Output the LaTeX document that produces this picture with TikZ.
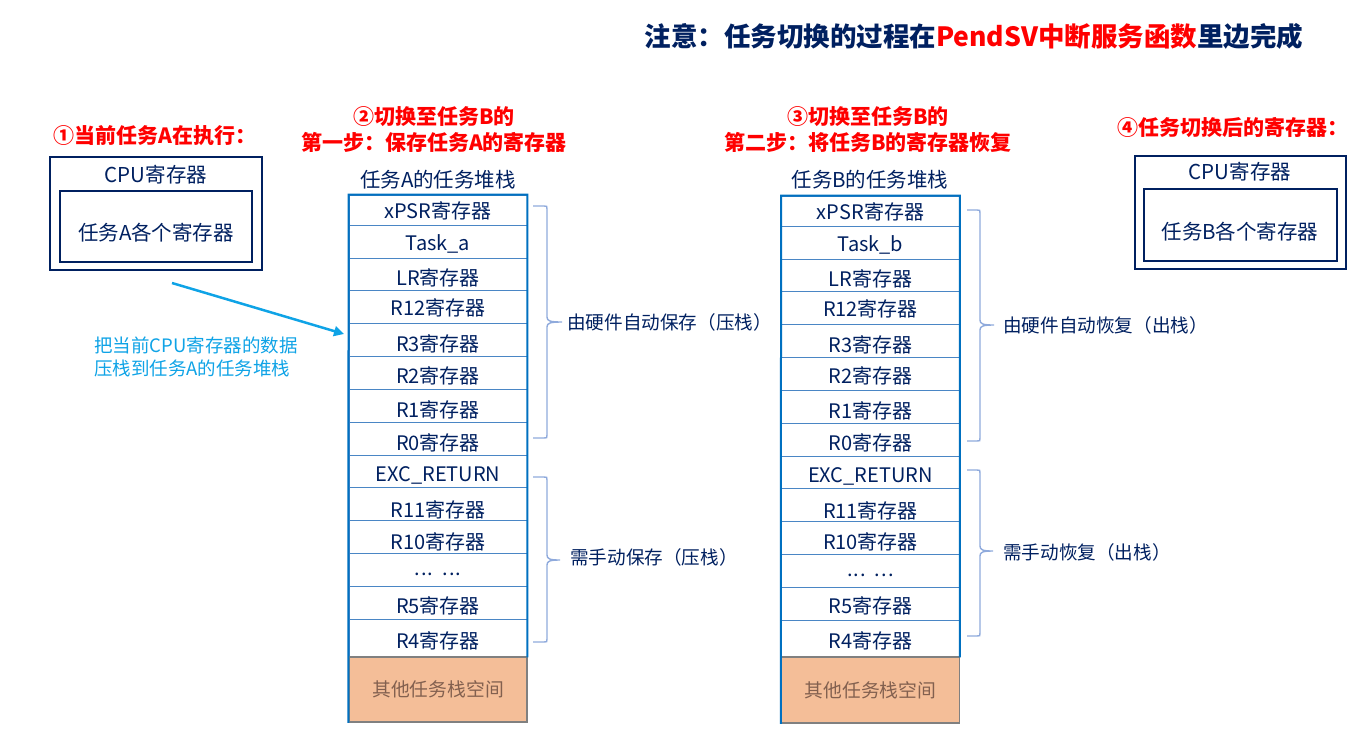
\documentclass[tikz,border=0pt]{standalone}
\usepackage{fontspec}
\setmainfont{Noto Sans CJK SC}
\usetikzlibrary{arrows.meta}
\definecolor{navy}{HTML}{002060}
\definecolor{tred}{HTML}{FF0000}
\definecolor{cyanA}{HTML}{0FA3E6}
\definecolor{stackblue}{HTML}{0070C0}
\definecolor{linblue}{HTML}{4A86C5}
\definecolor{bracec}{HTML}{8FAADC}
\definecolor{orangef}{HTML}{F4BE98}
\definecolor{othertxt}{HTML}{82604F}
\newcommand\mydots{.\kern1pt.\kern1pt.\ \ .\kern1pt.\kern1pt.}
\newcommand\mybrace[6]{%
  \draw[bracestyle] (#1,#3) -- ({#2-3},#3) .. controls (#2,#3) .. (#2,{#3+3})
    -- (#2,{#5-5}) .. controls (#2,{#5-1}) and ({#2+3},#5) .. (#6,#5)
    .. controls ({#2+3},#5) and (#2,{#5+1}) .. (#2,{#5+5})
    -- (#2,{#4-3}) .. controls (#2,#4) .. ({#2-3},#4) -- (#1,#4);}
\begin{document}
\begin{tikzpicture}[x=1pt,y=-1pt,
  cellbox/.style={draw=linblue, line width=0.8pt, minimum width=178, inner sep=0pt},
  celltxt/.style={font=\fontsize{20}{24}\selectfont, text=navy, inner sep=0pt},
  redlbl/.style={font=\fontsize{21}{26}\selectfont\bfseries, text=tred, align=center, inner sep=0pt},
  hdr/.style={font=\fontsize{20.5}{24}\selectfont, text=navy, inner sep=0pt},
  bracelbl/.style={font=\fontsize{18.6}{22}\selectfont, text=navy, anchor=west, inner sep=0pt},
  outerbox/.style={draw=navy, line width=2.6pt, inner sep=0pt},
  innerbox/.style={draw=navy, line width=2.3pt, inner sep=0pt},
  bracestyle/.style={draw=bracec, line width=1.4pt},
  othercell/.style={draw=gray, line width=1.5pt, fill=orangef, minimum width=178, inner sep=0pt, text=othertxt, font=\fontsize{18.8}{22}\selectfont},
]
\useasboundingbox (0,0) rectangle (1361,732);
% title
\node[font=\fontsize{26.5}{30}\selectfont\bfseries, text=navy, inner sep=0pt] (title) at (974,36)
  {注意：任务切换的过程在\textcolor{tred}{PendSV中断服务函数}里边完成};
% step labels
\node[redlbl] (s1) at (155,136) {①当前任务A在执行：};
\node[redlbl] (s2) at (434,130) {②切换至任务B的\\第一步：保存任务A的寄存器};
\node[redlbl] (s3) at (868,130) {③切换至任务B的\\第二步：将任务B的寄存器恢复};
\node[redlbl] (s4) at (1233,128) {④任务切换后的寄存器：};
% left CPU box
\node[outerbox, minimum width=212, minimum height=113] (cpuA) at (156,213.5) {};
\node[innerbox, minimum width=192, minimum height=71] (cpuAin) at (156,226.5) {};
\node[hdr] (cpuAt) at (156,175) {CPU寄存器};
\node[hdr] (cpuAint) at (156,232.5) {任务A各个寄存器};
% right CPU box
\node[outerbox, minimum width=211, minimum height=113] (cpuB) at (1240.5,212.5) {};
\node[innerbox, minimum width=193, minimum height=72] (cpuBin) at (1240.5,225) {};
\node[hdr] (cpuBt) at (1240,172) {CPU寄存器};
\node[hdr] (cpuBint) at (1240,231.5) {任务B各个寄存器};
% stack headers
\node[hdr] (hA) at (438,180) {任务A的任务堆栈};
\node[hdr] (hB) at (870,180) {任务B的任务堆栈};
% stack A
\foreach \t/\b/\ty/\txt [count=\i] in {195/225/211/xPSR寄存器, 225/258/243.5/Task\_a, 258/290/278/LR寄存器,
  290/323/307.5/R12寄存器, 323/356/344/R3寄存器, 356/389/375.5/R2寄存器, 389/422/409.5/R1寄存器,
  422/455/442.5/R0寄存器, 455/487/475/EXC\_RETURN, 487/520/509.5/R11寄存器, 520/553/541.5/R10寄存器,
  553/586/574/\mydots, 586/619/605.5/R5寄存器, 619/657/640.5/R4寄存器} {
  \node[cellbox, minimum height={\b-\t}] (A\i) at (438,{(\t+\b)/2}) {};
  \node[celltxt] (At\i) at (438,\ty) {\txt};
}
\node[othercell, minimum height=65] (Aother) at (438,689.5) {其他任务栈空间};
\draw[stackblue, line width=2pt] (A14.south east) -- (A1.north east) -- (A1.north west) -- (Aother.south west);
% stack B
\foreach \t/\b/\ty/\txt [count=\i] in {196/226/212/xPSR寄存器, 226/259/245/Task\_b, 259/291/279/LR寄存器,
  291/324/309/R12寄存器, 324/357/345/R3寄存器, 357/390/376/R2寄存器, 390/423/411/R1寄存器,
  423/456/443/R0寄存器, 456/488/476/EXC\_RETURN, 488/521/511/R11寄存器, 521/554/542/R10寄存器,
  554/587/575/\mydots, 587/620/606/R5寄存器, 620/657/641/R4寄存器} {
  \node[cellbox, minimum height={\b-\t}] (B\i) at (870.5,{(\t+\b)/2}) {};
  \node[celltxt] (Bt\i) at (870.5,\ty) {\txt};
}
\node[othercell, minimum height=66] (Bother) at (870.5,690) {其他任务栈空间};
\draw[stackblue, line width=2pt] (B14.south east) -- (B1.north east) -- (B1.north west) -- (Bother.south west);
% braces
\mybrace{533}{547}{206}{438}{322}{562}
\mybrace{533}{547}{477}{642}{560}{560}
\mybrace{967}{980}{210}{441}{325}{994}
\mybrace{967}{980}{470}{636}{551}{993}
\node[bracelbl] (bA1) at (567,322) {由硬件自动保存（压栈）};
\node[bracelbl] (bA2) at (570,557) {需手动保存（压栈）};
\node[bracelbl] (bB1) at (1003,325) {由硬件自动恢复（出栈）};
\node[bracelbl] (bB2) at (1003,552) {需手动恢复（出栈）};
% arrow and note
\coordinate (arrS) at (172,283);
\coordinate (arrE) at (344,334);
\draw[cyanA, line width=2.5pt, -{Triangle[length=10pt,width=10pt]}] (arrS) -- (arrE);
\node[font=\fontsize{18.5}{23}\selectfont, text=cyanA, align=left, anchor=west, inner sep=0pt] (note) at (94,357)
  {把当前CPU寄存器的数据\\压栈到任务A的任务堆栈};
\end{tikzpicture}
\end{document}
